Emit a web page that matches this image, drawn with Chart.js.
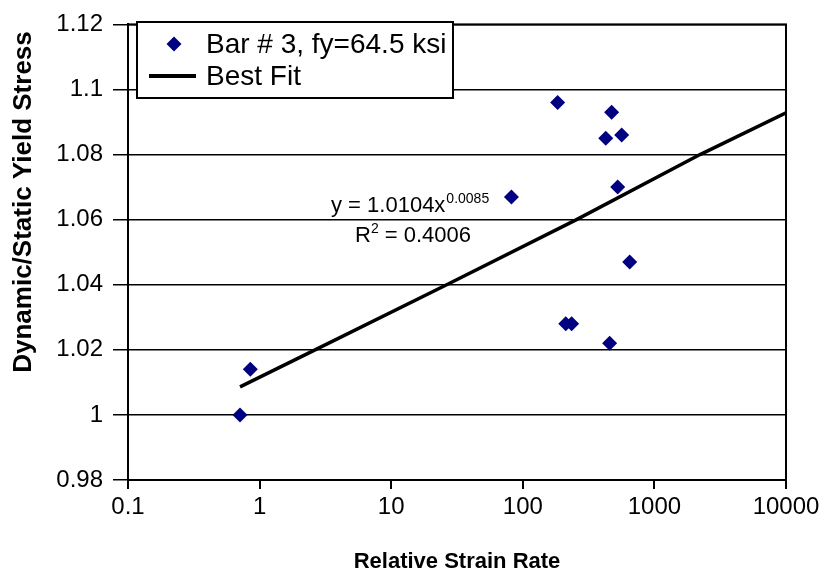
<!DOCTYPE html>
<html>
<head>
<meta charset="utf-8">
<script src="https://cdn.jsdelivr.net/npm/chart.js@4/dist/chart.umd.min.js"></script>
<style>
  body { margin: 0; background: #fff; }
  #wrap { width: 826px; height: 580px; }
</style>
</head>
<body>
<div id="wrap"><canvas id="chartDisplay" width="826" height="580"></canvas></div>
<script>
// values
const strainRates  = [0.71, 0.85, 82, 184, 473, 427, 564, 526, 649, 212, 235, 457];
const stressRatios = [1.000, 1.014, 1.067, 1.096, 1.093, 1.085, 1.086, 1.070, 1.047, 1.028, 1.028, 1.022];
// best fit line, points picked along the drawn trendline
const fitX = [0.71, 2.64, 26.4, 256, 2222, 10000];
const fitY = [1.0086, 1.02, 1.04, 1.06, 1.08, 1.0928];
// tick labels
const xTicks = [0.1, 1, 10, 100, 1000, 10000];
const yTicks = [0.98, 1, 1.02, 1.04, 1.06, 1.08, 1.1, 1.12];

const seriesNames = ['Bar # 3, fy=64.5 ksi', 'Best Fit'];
const xTitle = 'Relative Strain Rate';
const yTitle = 'Dynamic/Static Yield Stress';
const FONT = 'Arial, "Liberation Sans", sans-serif';

const chartDisplay = document.getElementById('chartDisplay');

// legend box, equation text, y title and plot border (Excel style)
const excelExtras = {
  id: 'excelExtras',
  afterDraw(chart) {
    const ctx = chart.ctx;
    const a = chart.chartArea;
    ctx.save();
    // plot border
    ctx.strokeStyle = '#000';
    ctx.lineWidth = 2;
    ctx.strokeRect(a.left, a.top, a.right - a.left, a.bottom - a.top);

    // legend
    ctx.fillStyle = '#fff';
    ctx.fillRect(137, 22, 316, 76);
    ctx.lineWidth = 2;
    ctx.strokeRect(137, 22, 316, 76);

    // marker
    const r = 7.5;
    ctx.fillStyle = '#000080';
    ctx.beginPath();
    ctx.moveTo(174, 44 - r);
    ctx.lineTo(174 + r, 44);
    ctx.lineTo(174, 44 + r);
    ctx.lineTo(174 - r, 44);
    ctx.closePath();
    ctx.fill();
    // line sample
    ctx.strokeStyle = '#000';
    ctx.lineWidth = 4;
    ctx.beginPath();
    ctx.moveTo(149, 76);
    ctx.lineTo(196, 76);
    ctx.stroke();

    ctx.fillStyle = '#000';
    ctx.font = '28px ' + FONT;
    ctx.textBaseline = 'middle';
    ctx.textAlign = 'left';
    ctx.fillText(seriesNames[0], 206, 45);
    ctx.fillText(seriesNames[1], 206, 77);

    // trendline equation
    ctx.font = '22px ' + FONT;
    let t = 'y = 1.0104x';
    ctx.fillText(t, 331, 206);
    let w = ctx.measureText(t).width;
    ctx.font = '14px ' + FONT;
    ctx.fillText('0.0085', 331 + w + 1, 199);

    ctx.font = '22px ' + FONT;
    ctx.fillText('R', 355, 236);
    w = ctx.measureText('R').width;
    ctx.font = '14px ' + FONT;
    ctx.fillText('2', 355 + w, 229);
    const w2 = ctx.measureText('2').width;
    ctx.font = '22px ' + FONT;
    ctx.fillText(' = 0.4006', 355 + w + w2, 236);

    // y axis title
    ctx.translate(24, 202);
    ctx.rotate(-Math.PI / 2);
    ctx.textAlign = 'center';
    ctx.font = 'bold 26px ' + FONT;
    ctx.fillText(yTitle, 0, 0);
    ctx.restore();
  }
};

Chart.defaults.font.family = FONT;
Chart.defaults.color = '#000';

let chart = new Chart(chartDisplay, {
  type: 'scatter',
  data: {
    datasets: [{
      label: seriesNames[0],
      data: strainRates.map((x, i) => ({ x: x, y: stressRatios[i] })),
      pointStyle: 'rectRot',
      pointRadius: 7.5,
      backgroundColor: '#000080',
      borderColor: '#000080',
      borderWidth: 0,
      order: 1
    }, {
      label: seriesNames[1],
      type: 'line',
      data: fitX.map((x, i) => ({ x: x, y: fitY[i] })),
      borderColor: '#000',
      borderWidth: 3.5,
      pointRadius: 0,
      fill: false,
      tension: 0,
      order: 2
    }]
  },
  options: {
    responsive: false,
    animation: false,
    layout: { padding: { left: 0, right: 40, top: 20, bottom: 0 } },
    plugins: {
      legend: { display: false },
      tooltip: { enabled: false }
    },
    scales: {
      x: {
        type: 'logarithmic',
        min: 0.1,
        max: 10000,
        afterBuildTicks: (scale) => { scale.ticks = xTicks.map(v => ({ value: v })); },
        afterFit: (scale) => { scale.height = 100; },
        ticks: {
          font: { size: 24 },
          maxRotation: 0,
          padding: 4,
          callback: (v) => String(v)
        },
        grid: { display: true, drawOnChartArea: false, drawTicks: true, tickLength: 9, color: '#000', lineWidth: 2 },
        border: { display: true, color: '#000', width: 2 },
        title: {
          display: true,
          text: xTitle,
          font: { size: 22, weight: 'bold' },
          padding: { top: 0, bottom: 5 }
        }
      },
      y: {
        min: 0.98,
        max: 1.12,
        afterBuildTicks: (scale) => { scale.ticks = yTicks.map(v => ({ value: v })); },
        afterFit: (scale) => { scale.width = 128; },
        ticks: {
          font: { size: 24 },
          padding: 10,
          callback: (v) => String(Number(v.toFixed(2)))
        },
        grid: { color: '#000', lineWidth: 1.5, tickLength: 15 },
        border: { display: true, color: '#000', width: 2 },
        title: { display: false }
      }
    }
  },
  plugins: [excelExtras]
});
</script>
</body>
</html>
